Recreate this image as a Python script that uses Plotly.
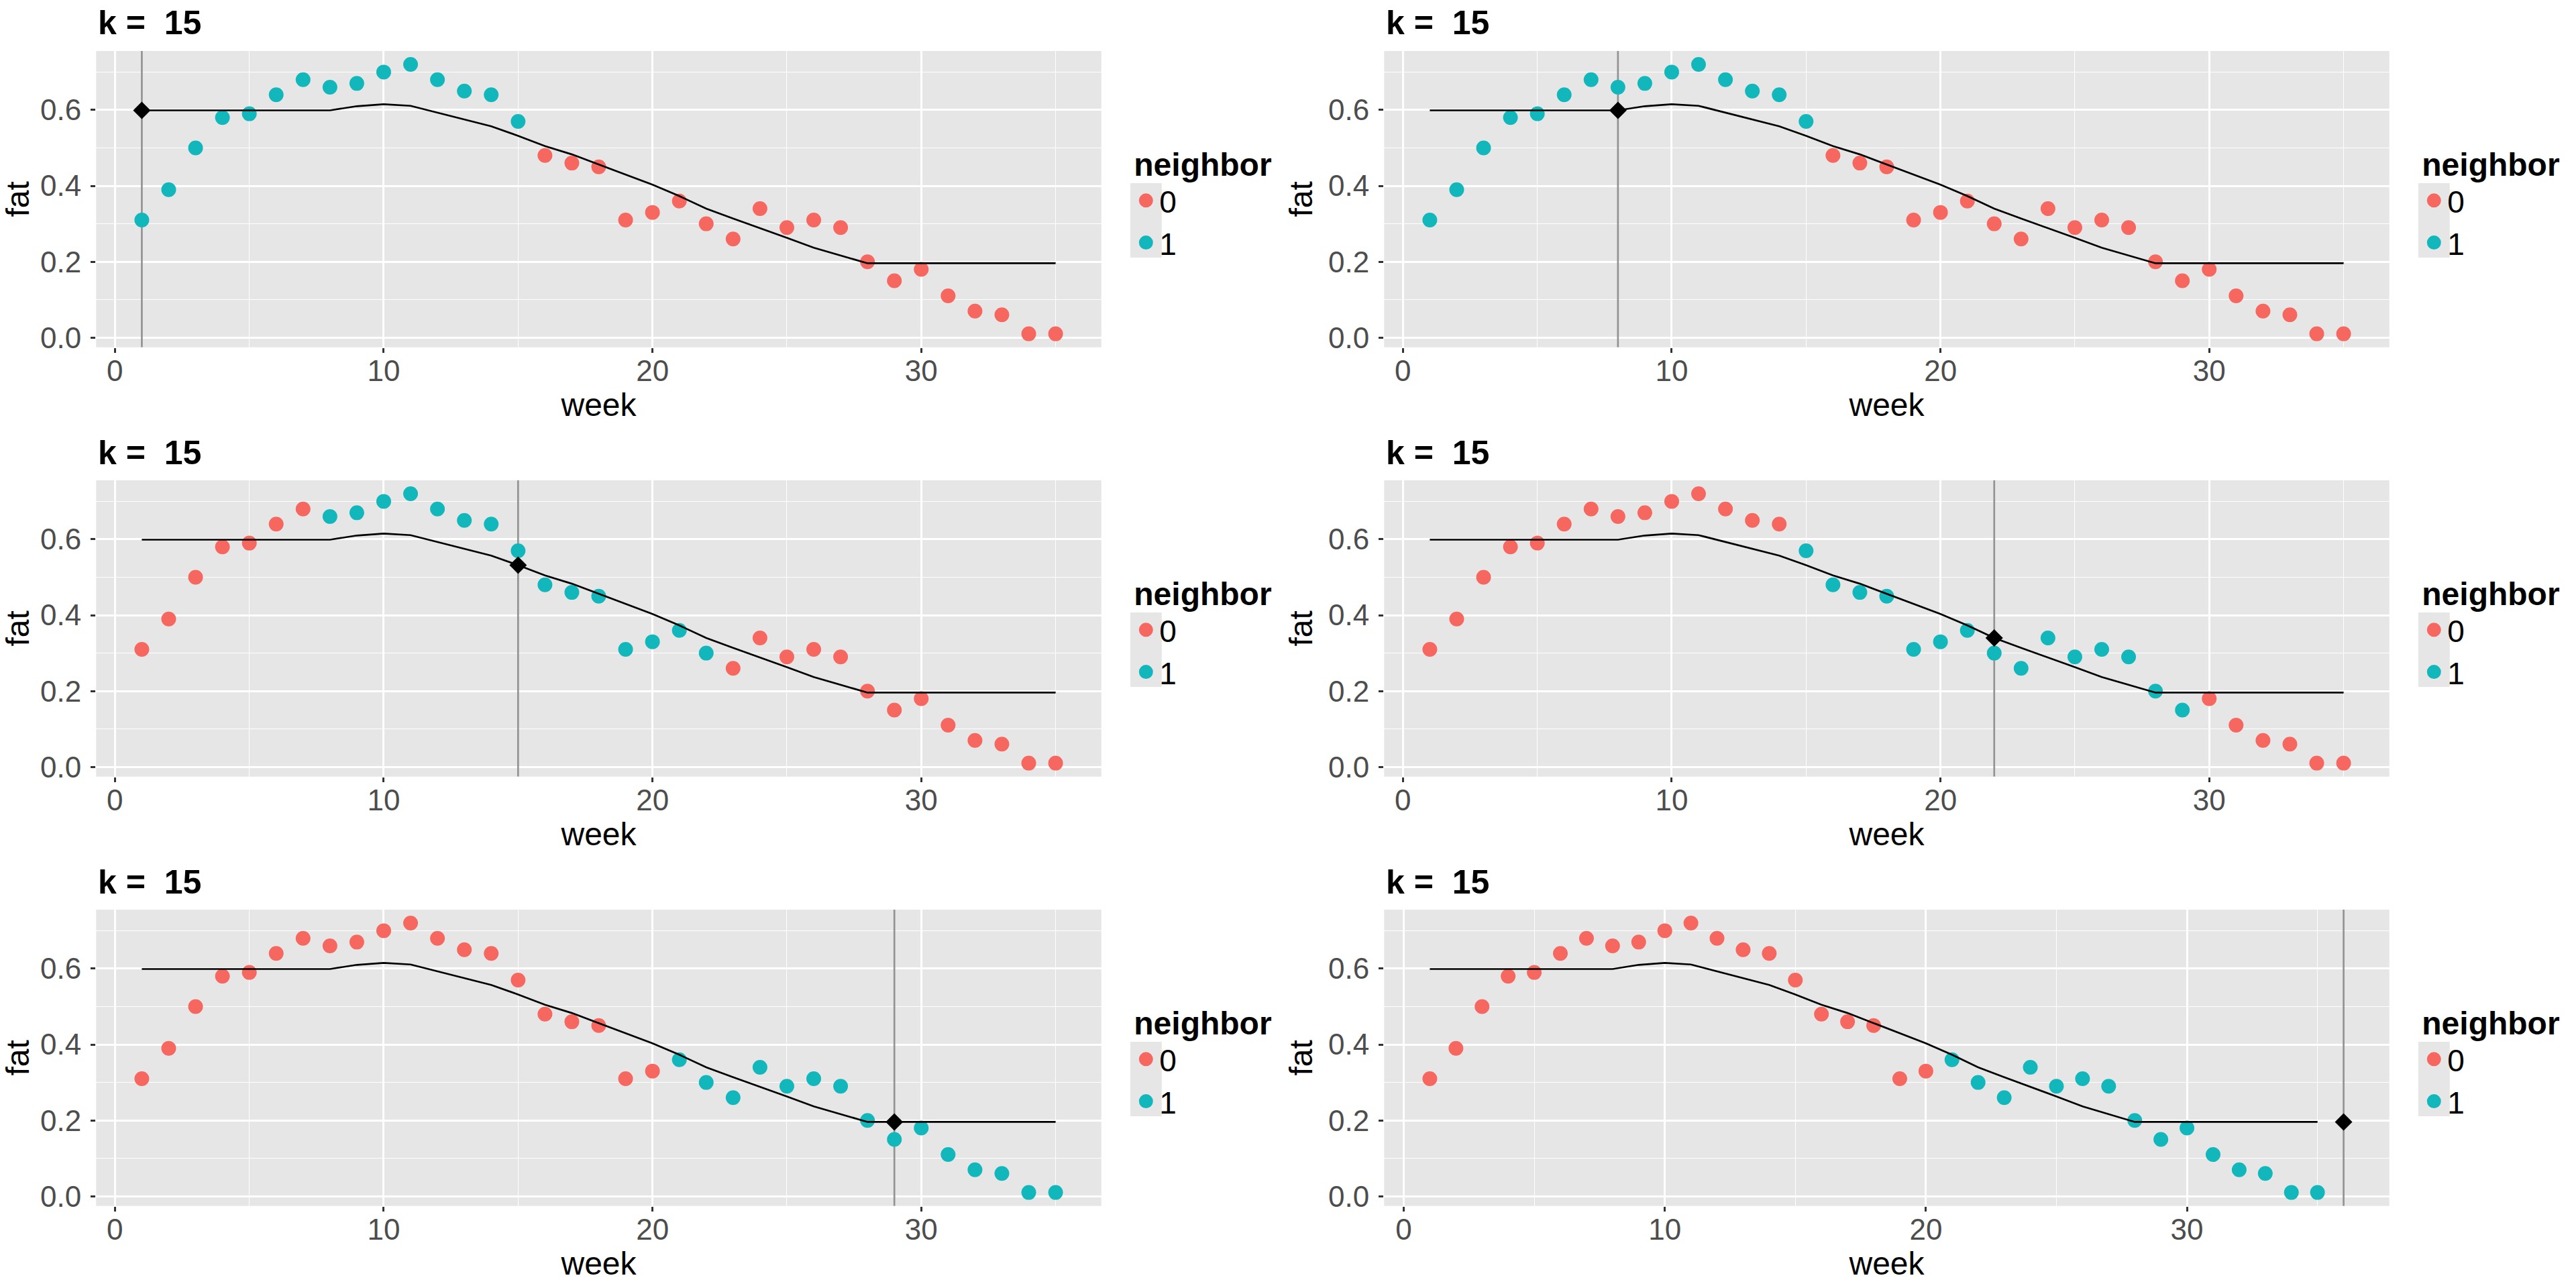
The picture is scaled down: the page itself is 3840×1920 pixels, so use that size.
import plotly.graph_objects as go

# ---------------- data ----------------
weeks = list(range(1, 36))
fat = [0.31, 0.39, 0.50, 0.58, 0.59, 0.64, 0.68, 0.66, 0.67, 0.70,
       0.72, 0.68, 0.65, 0.64, 0.57, 0.48, 0.46, 0.45, 0.31, 0.33,
       0.36, 0.30, 0.26, 0.34, 0.29, 0.31, 0.29, 0.20, 0.15, 0.18,
       0.11, 0.07, 0.06, 0.01, 0.01]
# k-NN (k = 15) fitted curve
fit = [0.599, 0.599, 0.599, 0.599, 0.599, 0.599, 0.599, 0.599, 0.610, 0.615,
       0.611, 0.593, 0.576, 0.557, 0.532, 0.505, 0.483, 0.456, 0.429, 0.403,
       0.373, 0.340, 0.314, 0.289, 0.263, 0.237, 0.217, 0.196, 0.196, 0.196,
       0.196, 0.196, 0.196, 0.196, 0.196]
query_week = [1, 8, 15, 22, 29, 36]
query_pred = [0.599, 0.599, 0.532, 0.340, 0.196, 0.196]
nb_start = [1, 1, 8, 15, 21, 21]
nb_end = [15, 15, 22, 29, 35, 35]
k_value = 15
x_ticks = [0, 10, 20, 30]
x_minor = [5, 15, 25, 35]
y_ticks = [0.0, 0.2, 0.4, 0.6]
y_ticktext = ["0.0", "0.2", "0.4", "0.6"]
y_minor = [0.1, 0.3, 0.5, 0.7]
categories = ["0", "1"]

# ---------------- style ----------------
W, H = 3840, 1920
COLW, ROWH = 1920, 640
PX_L, PX_R = 143.3, 1641.7       # panel left/right inside one cell
PY_T, PY_B = 76.0, 517.7         # panel top/bottom inside one cell
FONT = "Liberation Sans, Arial, Helvetica, sans-serif"
COLORS = {"0": "#F5675F", "1": "#12B7BB"}
PANEL_BG = "#E6E6E6"

fig = go.Figure()
shapes = []
annotations = []
layout = {}

for i in range(6):
    r, c = divmod(i, 2)
    sfx = "" if i == 0 else str(i + 1)
    xa, ya = "x" + sfx, "y" + sfx
    lg = "legend" + sfx
    flags = ["1" if nb_start[i] <= w <= nb_end[i] else "0" for w in weeks]

    # axis ranges (ggplot 5% expansion of the data incl. query point)
    xmin = min(min(weeks), query_week[i])
    xmax = max(max(weeks), query_week[i])
    xpad = 0.05 * (xmax - xmin)
    ylo = min(fat) - 0.05 * (max(fat) - min(fat))
    yhi = max(fat) + 0.05 * (max(fat) - min(fat))

    # vertical reference line at the query week (spans full panel)
    fig.add_trace(go.Scatter(
        x=[query_week[i], query_week[i]], y=[ylo, yhi], mode="lines",
        line=dict(color="#939393", width=2.7),
        xaxis=xa, yaxis=ya, showlegend=False, hoverinfo="skip",
    ))
    for cat in categories:
        xs = [w for w, f in zip(weeks, flags) if f == cat]
        ys = [v for v, f in zip(fat, flags) if f == cat]
        fig.add_trace(go.Scatter(
            x=xs, y=ys, mode="markers", name=cat,
            marker=dict(color=COLORS[cat], size=17,
                        line=dict(width=5, color=COLORS[cat])),
            xaxis=xa, yaxis=ya, legend=lg, showlegend=True,
        ))
    fig.add_trace(go.Scatter(
        x=weeks, y=fit, mode="lines", line=dict(color="black", width=2.7),
        xaxis=xa, yaxis=ya, showlegend=False, hoverinfo="skip",
    ))
    fig.add_trace(go.Scatter(
        x=[query_week[i]], y=[query_pred[i]], mode="markers",
        marker=dict(symbol="diamond", color="black", size=20, line=dict(width=0)),
        xaxis=xa, yaxis=ya, showlegend=False,
    ))

    x0 = (c * COLW + PX_L) / W
    x1 = (c * COLW + PX_R) / W
    y1 = 1 - (r * ROWH + PY_T) / H
    y0 = 1 - (r * ROWH + PY_B) / H

    layout["xaxis" + sfx] = dict(
        domain=[x0, x1], anchor=ya, range=[xmin - xpad, xmax + xpad],
        tickmode="array", tickvals=x_ticks, ticktext=[str(t) for t in x_ticks],
        showgrid=True, gridcolor="white", gridwidth=2.7,
        minor=dict(tickvals=x_minor, showgrid=True, gridcolor="white",
                   gridwidth=1.35, ticks=""),
        ticks="outside", ticklen=7.3, tickwidth=2.7, tickcolor="#333333",
        tickfont=dict(family=FONT, size=44, color="#4D4D4D"),
        ticklabelstandoff=-11,
        zeroline=False, showline=False, fixedrange=True,
        title=dict(text="week", font=dict(family=FONT, size=48, color="black"),
                   standoff=0),
        automargin=False,
    )
    layout["yaxis" + sfx] = dict(
        domain=[y0, y1], anchor=xa, range=[ylo, yhi],
        tickmode="array", tickvals=y_ticks, ticktext=y_ticktext,
        showgrid=True, gridcolor="white", gridwidth=2.7,
        minor=dict(tickvals=y_minor, showgrid=True, gridcolor="white",
                   gridwidth=1.35, ticks=""),
        ticks="outside", ticklen=7.3, tickwidth=2.7, tickcolor="#333333",
        tickfont=dict(family=FONT, size=44, color="#4D4D4D"),
        ticklabelstandoff=5,
        zeroline=False, showline=False, fixedrange=True,
        title=dict(text="fat", font=dict(family=FONT, size=48, color="black"),
                   standoff=8),
        automargin=False,
    )
    layout[lg] = dict(
        x=(c * COLW + 1688.3) / W, xanchor="left",
        y=1 - (r * ROWH + 200) / H, yanchor="top",
        bgcolor="rgba(0,0,0,0)", borderwidth=0,
        title=dict(text="<b>neighbor</b>", font=dict(family=FONT, size=48, color="black")),
        font=dict(family=FONT, size=46, color="black"),
        itemsizing="trace", tracegroupgap=0, traceorder="normal",
    )
    # grey legend-key background
    shapes.append(dict(type="rect", xref="paper", yref="paper",
                       x0=(c * COLW + 1685) / W, x1=(c * COLW + 1731.7) / W,
                       y0=1 - (r * ROWH + 384) / H, y1=1 - (r * ROWH + 273) / H,
                       fillcolor=PANEL_BG, line=dict(width=0), layer="below"))
    # panel title
    annotations.append(dict(
        text="<b>k = \u00a0" + str(k_value) + "</b>", xref="paper", yref="paper",
        x=(c * COLW + 144) / W, y=1 - (r * ROWH + 34.5) / H,
        xanchor="left", yanchor="middle", showarrow=False,
        font=dict(family=FONT, size=50, color="black"),
    ))

fig.update_layout(
    width=W, height=H, margin=dict(l=0, r=0, t=0, b=0),
    paper_bgcolor="white", plot_bgcolor=PANEL_BG,
    shapes=shapes, annotations=annotations, **layout,
)
fig.write_html(
    "out.html",
    config={"displayModeBar": False},
    post_script="document.body.style.margin='0px';document.body.style.padding='0px';"
                "document.body.style.overflow='hidden';",
)
